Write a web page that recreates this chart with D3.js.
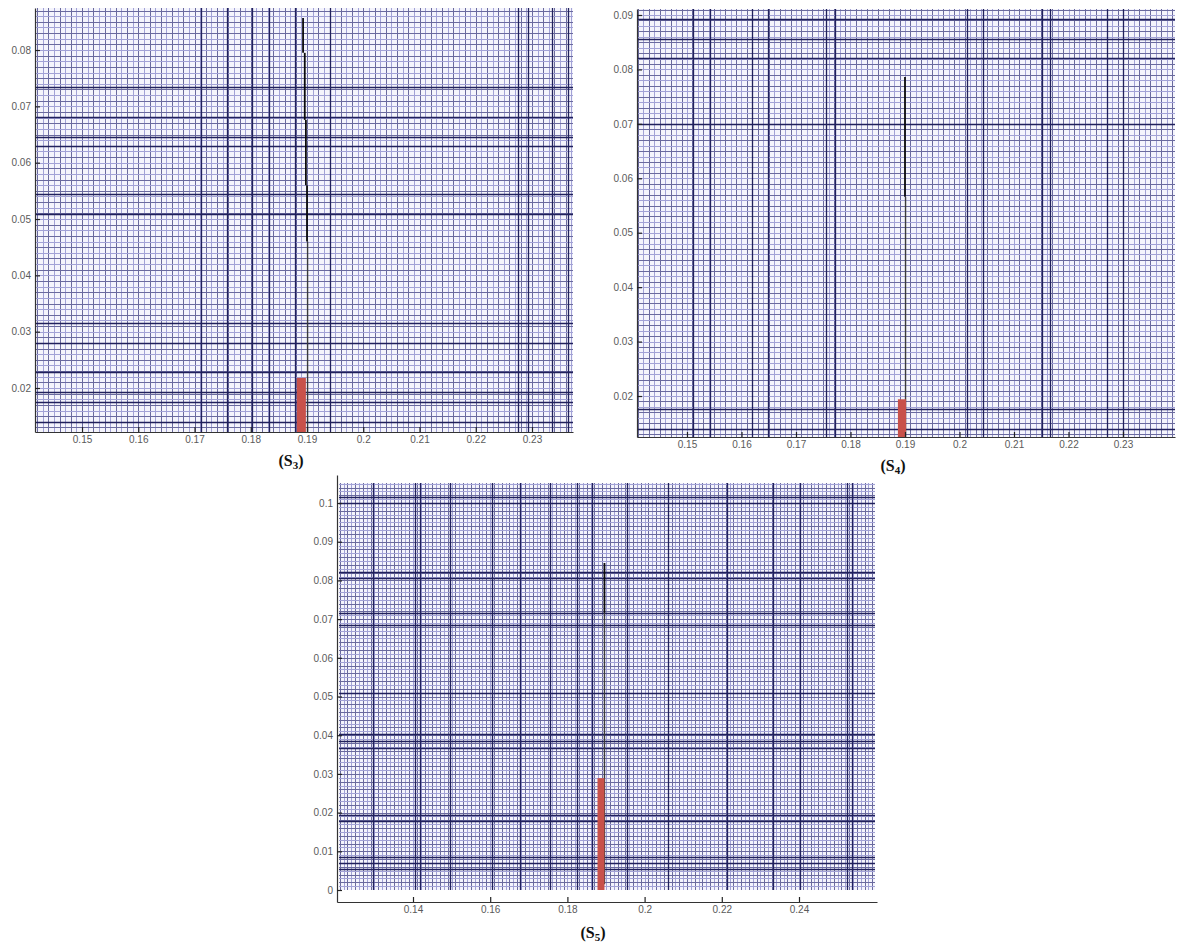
<!DOCTYPE html>
<html>
<head>
<meta charset="utf-8">
<script src="https://cdn.jsdelivr.net/npm/d3@7"></script>
<style>
  body { margin: 0; background: #fff; }
  svg { display: block; }
  .tick text { font-family: "Liberation Sans", Arial, sans-serif; font-size: 10px; fill: #5a5a5a; }
  .label { font-family: "Liberation Serif", "Times New Roman", serif; font-weight: bold; fill: #111; }
</style>
</head>
<body>
<svg id="chart" width="1180" height="943"></svg>
<script>
// ---- S3 ----
const s3XTicks = [0.15, 0.16, 0.17, 0.18, 0.19, 0.2, 0.21, 0.22, 0.23]
const s3YTicks = [0.02, 0.03, 0.04, 0.05, 0.06, 0.07, 0.08]
const s3DarkX = [0.1712, 0.1758, 0.1802, 0.1832, 0.1879, 0.1941, 0.2275, 0.2293, 0.2336, 0.2364]
const s3DarkY = [0.0140, 0.0175, 0.0193, 0.0228, 0.0280, 0.0315, 0.0509, 0.0544, 0.0630, 0.0646, 0.0681, 0.0734]
const s3Bar = [0.1882, 0.1898, 0.0218]          // x0, x1, top
const s3SpikeX = [0.1893, 0.1896, 0.1898, 0.1900, 0.1901]
const s3SpikeHi = [0.0857, 0.0795, 0.0676, 0.0560, 0.0460]
const s3SpikeLo = [0.0795, 0.0676, 0.0560, 0.0460, 0.0122]

// ---- S4 ----
const s4XTicks = [0.15, 0.16, 0.17, 0.18, 0.19, 0.2, 0.21, 0.22, 0.23]
const s4YTicks = [0.02, 0.03, 0.04, 0.05, 0.06, 0.07, 0.08, 0.09]
const s4DarkX = [0.1511, 0.1542, 0.1619, 0.1649, 0.1755, 0.1772, 0.2014, 0.2043, 0.2151, 0.2166, 0.2271, 0.2300]
const s4DarkY = [0.0139, 0.0176, 0.0700, 0.0821, 0.0856, 0.0893]
const s4Bar = [0.1887, 0.1902, 0.0194]
const s4SpikeX = [0.1900, 0.1901]
const s4SpikeHi = [0.0786, 0.0566]
const s4SpikeLo = [0.0566, 0.0125]

// ---- S5 ----
const s5XTicks = [0.14, 0.16, 0.18, 0.2, 0.22, 0.24]
const s5YTicks = [0, 0.01, 0.02, 0.03, 0.04, 0.05, 0.06, 0.07, 0.08, 0.09, 0.1]
const s5DarkX = [0.1296, 0.1405, 0.1418, 0.1496, 0.1605, 0.1677, 0.1755, 0.1825, 0.1864, 0.1954, 0.2061, 0.2213, 0.2333, 0.2403, 0.2524, 0.2537]
const s5DarkY = [0.0054, 0.0070, 0.0085, 0.0178, 0.0194, 0.0367, 0.0385, 0.0403, 0.0509, 0.0685, 0.0716, 0.0806, 0.0822, 0.1000, 0.1016]
const s5Bar = [0.1878, 0.1896, 0.0289]
const s5SpikeX = [0.1896, 0.1896]
const s5SpikeHi = [0.0845, 0.0716]
const s5SpikeLo = [0.0716, 0.0015]

const labels = ['3', '4', '5']

const svg = d3.select('#chart')
svg.append('rect').attr('width', 1180).attr('height', 943).attr('fill', '#fff')

const panels = [
  { box: [35, 573, 8, 432], xDomain: [0.14164, 0.23729], yDomain: [0.01219, 0.08746],
    xTicks: s3XTicks, yTicks: s3YTicks, darkX: s3DarkX, darkY: s3DarkY, bar: s3Bar,
    spikeX: s3SpikeX, spikeHi: s3SpikeHi, spikeLo: s3SpikeLo, label: labels[0], labelAt: [291, 466] },
  { box: [637, 1175, 9, 437], xDomain: [0.14083, 0.23954], yDomain: [0.01247, 0.0911],
    xTicks: s4XTicks, yTicks: s4YTicks, darkX: s4DarkX, darkY: s4DarkY, bar: s4Bar,
    spikeX: s4SpikeX, spikeHi: s4SpikeHi, spikeLo: s4SpikeLo, label: labels[1], labelAt: [893, 471] },
  { box: [337, 877, 475, 902], xDomain: [0.12031, 0.26021], yDomain: [-0.0031, 0.10724],
    gridX: [0.1208, 0.2597], gridY: [0, 0.1052],
    xTicks: s5XTicks, yTicks: s5YTicks, darkX: s5DarkX, darkY: s5DarkY, bar: s5Bar,
    spikeX: s5SpikeX, spikeHi: s5SpikeHi, spikeLo: s5SpikeLo, label: labels[2], labelAt: [593, 938] }
]

panels.forEach((p, pi) => {
  const [l, r, t, b] = p.box
  const x = d3.scaleLinear().domain(p.xDomain).range([l, r])
  const y = d3.scaleLinear().domain(p.yDomain).range([b, t])
  const gx = p.gridX || p.xDomain
  const gy = p.gridY || p.yDomain
  const g = svg.append('g')

  const clipId = 'clip' + pi
  g.append('clipPath').attr('id', clipId).append('rect')
    .attr('x', x(gx[0])).attr('y', y(gy[1]))
    .attr('width', x(gx[1]) - x(gx[0])).attr('height', y(gy[0]) - y(gy[1]))

  const grid = g.append('g').attr('clip-path', `url(#${clipId})`)
  grid.append('rect')
    .attr('x', x(gx[0])).attr('y', y(gy[1]))
    .attr('width', x(gx[1]) - x(gx[0])).attr('height', y(gy[0]) - y(gy[1]))
    .attr('fill', '#f4f4fc')

  // fine grid every 0.001
  const minorX = d3.range(Math.ceil(gx[0] * 1000), Math.floor(gx[1] * 1000) + 1).map(k => k / 1000)
  const minorY = d3.range(Math.ceil(gy[0] * 1000), Math.floor(gy[1] * 1000) + 1).map(k => k / 1000)
  const snap = v => Math.round(v) + 0.5

  grid.selectAll('.vmin').data(minorX).join('line')
    .attr('x1', d => snap(x(d))).attr('x2', d => snap(x(d)))
    .attr('y1', y(gy[0])).attr('y2', y(gy[1]))
    .attr('stroke', (d, i) => i % 2 ? '#a2a2d6' : '#6a6a9e')
    .attr('stroke-width', 1)
  grid.selectAll('.hmin').data(minorY).join('line')
    .attr('y1', d => snap(y(d))).attr('y2', d => snap(y(d)))
    .attr('x1', x(gx[0])).attr('x2', x(gx[1]))
    .attr('stroke', (d, i) => i % 2 ? '#a2a2d6' : '#6a6a9e')
    .attr('stroke-width', 1)

  // heavy grid lines
  grid.selectAll('.vmaj').data(p.darkX).join('line')
    .attr('x1', d => snap(x(d))).attr('x2', d => snap(x(d)))
    .attr('y1', y(gy[0])).attr('y2', y(gy[1]))
    .attr('stroke', '#20205c').attr('stroke-width', 1.3)
  grid.selectAll('.hmaj').data(p.darkY).join('line')
    .attr('y1', d => snap(y(d))).attr('y2', d => snap(y(d)))
    .attr('x1', x(gx[0])).attr('x2', x(gx[1]))
    .attr('stroke', '#20205c').attr('stroke-width', 1.3)

  // thin spike
  const base = Math.max(gy[0], p.yDomain[0])
  grid.selectAll('.spike').data(p.spikeX).join('line')
    .attr('x1', d => x(d)).attr('x2', d => x(d))
    .attr('y1', (d, i) => y(p.spikeLo[i])).attr('y2', (d, i) => y(p.spikeHi[i]))
    .attr('stroke', (d, i) => i === p.spikeX.length - 1 ? '#3a3a3a' : '#0a0a0a')
    .attr('stroke-width', (d, i) => i === p.spikeX.length - 1 ? 1.4 : 1.8)

  // red bar
  grid.append('rect')
    .attr('x', x(p.bar[0])).attr('width', x(p.bar[1]) - x(p.bar[0]))
    .attr('y', y(p.bar[2])).attr('height', y(base) - y(p.bar[2]))
    .attr('fill', '#c8514a')

  // axes, ticks pointing inward
  const fmt = d3.format('~g')
  const xAxis = d3.axisBottom(x).tickValues(p.xTicks).tickFormat(fmt)
    .tickSizeInner(-5).tickSizeOuter(0).tickPadding(4)
  const yAxis = d3.axisLeft(y).tickValues(p.yTicks).tickFormat(fmt)
    .tickSizeInner(-5).tickSizeOuter(0).tickPadding(4)

  const ax = g.append('g').attr('transform', `translate(0,${b})`).call(xAxis)
  const ay = g.append('g').attr('transform', `translate(${l},0)`).call(yAxis)
  ;[ax, ay].forEach(a => {
    a.select('.domain').attr('stroke', '#333').attr('stroke-width', 1.2)
    a.selectAll('.tick line').attr('stroke', '#222').attr('stroke-width', 1.2)
  })

  // panel caption (S_n)
  const cap = svg.append('text').attr('class', 'label')
    .attr('x', p.labelAt[0]).attr('y', p.labelAt[1])
    .attr('text-anchor', 'middle').attr('font-size', 16)
  cap.append('tspan').text('(S')
  cap.append('tspan').attr('font-size', 11).attr('dy', 3).text(p.label)
  cap.append('tspan').attr('dy', -3).text(')')
})
</script>
</body>
</html>
